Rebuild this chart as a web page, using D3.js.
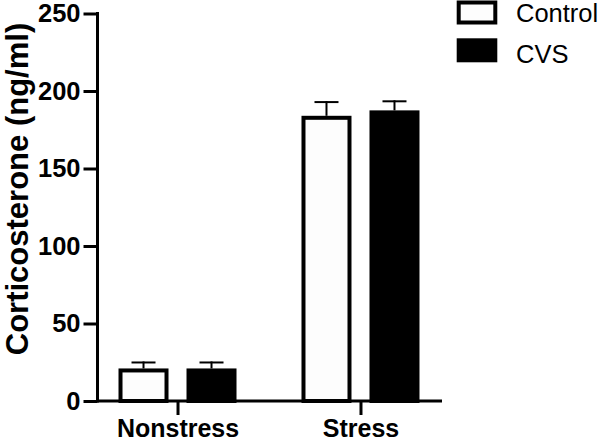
<!DOCTYPE html>
<html>
<head>
<meta charset="utf-8">
<script src="https://cdn.jsdelivr.net/npm/d3@7"></script>
<style>
  html, body { margin: 0; padding: 0; background: #fff; }
  svg { display: block; }
  text { font-family: "Liberation Sans", Arial, Helvetica, sans-serif; }
</style>
</head>
<body>
<svg id="chart" width="600" height="441"></svg>
<script>
// ---- data ----
const groups = ["Nonstress", "Stress"];
const seriesNames = ["Control", "CVS"];
const controlMean = [21, 184];
const controlSem = [4.5, 9.5];
const cvsMean = [21, 187.5];
const cvsSem = [4.5, 6.5];
const yTicks = [0, 50, 100, 150, 200, 250];
const yTitle = "Corticosterone (ng/ml)";

const rows = [];
groups.forEach((g, i) => {
  rows.push({group: g, series: "Control", mean: controlMean[i], sem: controlSem[i]});
  rows.push({group: g, series: "CVS", mean: cvsMean[i], sem: cvsSem[i]});
});

const svg = d3.select("#chart");

const y = d3.scaleLinear().domain([0, 250]).range([401, 13.5]);
const x = d3.scalePoint().domain(groups).range([97, 441]).padding(0.44);
const xi = d3.scaleBand().domain(seriesNames).range([-59, 59]).paddingInner(0.2647).paddingOuter(0);

const axisX = 97.5;
const sw = 4; // bar border

// bars
const bars = svg.append("g");
rows.forEach(d => {
  const x0 = x(d.group) + xi(d.series);
  const w = xi.bandwidth();
  const top = y(d.mean);
  bars.append("rect")
    .attr("x", x0 + sw / 2)
    .attr("y", top + sw / 2)
    .attr("width", w - sw)
    .attr("height", y(0) - top - sw / 2)
    .attr("fill", d.series === "Control" ? "#fdfdfd" : "#000")
    .attr("stroke", "#000")
    .attr("stroke-width", sw);
  // error bar
  const cx = x0 + w / 2;
  const et = y(d.mean + d.sem);
  bars.append("line")
    .attr("x1", cx).attr("x2", cx)
    .attr("y1", top).attr("y2", et)
    .attr("stroke", "#000").attr("stroke-width", 2);
  bars.append("line")
    .attr("x1", cx - 12).attr("x2", cx + 12)
    .attr("y1", et + 1).attr("y2", et + 1)
    .attr("stroke", "#000").attr("stroke-width", 2);
});

// y axis
const gy = svg.append("g")
  .attr("transform", `translate(${axisX},0)`)
  .call(d3.axisLeft(y).tickValues(yTicks).tickSize(14).tickSizeOuter(0).tickPadding(3));
gy.select(".domain").attr("stroke-width", 3).attr("d", `M0,${y(250) - 1.5}V${y(0) + 1.5}`);
gy.selectAll(".tick line").attr("stroke-width", 3);
gy.selectAll(".tick text")
  .attr("font-size", 25.5).attr("font-weight", "bold").attr("fill", "#000")
  .attr("font-family", "Liberation Sans, Arial, sans-serif");

// x axis
const gx = svg.append("g")
  .attr("transform", `translate(0,${y(0)})`)
  .call(d3.axisBottom(x).tickSize(14).tickSizeOuter(0).tickPadding(6));
gx.select(".domain").attr("stroke-width", 3).attr("d", `M${axisX},0H442`);
gx.selectAll(".tick line").attr("stroke-width", 3);
gx.selectAll(".tick text")
  .attr("font-size", 25).attr("font-weight", "bold").attr("fill", "#000")
  .attr("font-family", "Liberation Sans, Arial, sans-serif")
  .attr("dy", null).attr("y", 36);

// y title
svg.append("text")
  .attr("transform", `translate(27.5,189) rotate(-90)`)
  .attr("text-anchor", "middle")
  .attr("font-size", 31).attr("font-weight", "bold")
  .text(yTitle);

// legend
const legend = svg.append("g");
const legendY = [0.5, 38.3];
seriesNames.forEach((s, i) => {
  const top = legendY[i];
  legend.append("rect")
    .attr("x", 456.7 + sw / 2).attr("y", top + sw / 2)
    .attr("width", 40.6 - sw).attr("height", 24 - sw)
    .attr("fill", s === "Control" ? "#fdfdfd" : "#000")
    .attr("stroke", "#000").attr("stroke-width", sw);
  legend.append("text")
    .attr("x", 516).attr("y", top + 21.5 + i * 3)
    .attr("font-size", 25.5)
    .text(s);
});
</script>
</body>
</html>
